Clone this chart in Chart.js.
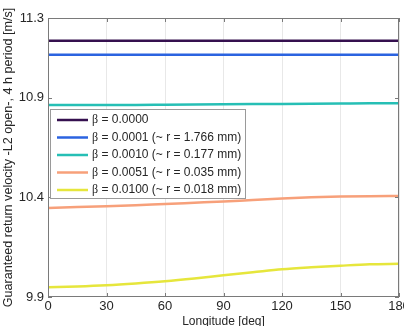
<!DOCTYPE html>
<html>
<head>
<meta charset="utf-8">
<script src="https://cdn.jsdelivr.net/npm/chart.js@4.4.1/dist/chart.umd.min.js"></script>
<style>
  html, body { margin: 0; padding: 0; background: #fff; }
  #wrap { width: 404px; height: 326px; }
</style>
</head>
<body>
<div id="wrap"><canvas id="chart" width="404" height="326"></canvas></div>
<script>
// longitude samples [deg]
const longitude = [0, 15, 30, 45, 60, 75, 90, 105, 120, 135, 150, 165, 180];

// guaranteed return velocity [m/s] per beta
const beta0000 = [11.186, 11.186, 11.186, 11.186, 11.186, 11.186, 11.186, 11.186, 11.186, 11.186, 11.186, 11.186, 11.186];
const beta0001 = [11.116, 11.116, 11.116, 11.116, 11.116, 11.116, 11.116, 11.116, 11.116, 11.116, 11.116, 11.116, 11.116];
const beta0010 = [10.863, 10.863, 10.864, 10.864, 10.865, 10.866, 10.867, 10.868, 10.869, 10.870, 10.871, 10.872, 10.872];
const beta0051 = [10.347, 10.351, 10.355, 10.360, 10.367, 10.373, 10.379, 10.387, 10.394, 10.400, 10.404, 10.406, 10.407];
const beta0100 = [9.949, 9.953, 9.959, 9.968, 9.979, 9.993, 10.009, 10.024, 10.039, 10.049, 10.057, 10.064, 10.067];

const seriesLabels = [
  'β = 0.0000',
  'β = 0.0001 (~ r = 1.766 mm)',
  'β = 0.0010 (~ r = 0.177 mm)',
  'β = 0.0051 (~ r = 0.035 mm)',
  'β = 0.0100 (~ r = 0.018 mm)'
];
const seriesValues = [beta0000, beta0001, beta0010, beta0051, beta0100];
const seriesColors = ['#35104f', '#2b63e0', '#26bfb5', '#f7a07a', '#e6e63c'];

const xTicks = [0, 30, 60, 90, 120, 150, 180];
const yTicks = [9.9, 10.4, 10.9, 11.3];

const sansFont = '"Liberation Sans", Arial, sans-serif';
const frameColor = '#7a7a7a';

// box + inward tick marks on all four sides (MATLAB style)
const framePlugin = {
  id: 'frame',
  afterDatasetsDraw(chart) {
    const { ctx, chartArea: a, scales } = chart;
    ctx.save();
    ctx.strokeStyle = frameColor;
    ctx.lineWidth = 1;
    ctx.strokeRect(a.left + 0.5, a.top + 0.5, a.right - a.left - 1, a.bottom - a.top - 1);
    ctx.beginPath();
    xTicks.forEach(v => {
      const x = Math.round(scales.x.getPixelForValue(v)) + 0.5;
      ctx.moveTo(x, a.bottom); ctx.lineTo(x, a.bottom - 4);
      ctx.moveTo(x, a.top); ctx.lineTo(x, a.top + 4);
    });
    yTicks.forEach(v => {
      const y = Math.round(scales.y.getPixelForValue(v)) + 0.5;
      ctx.moveTo(a.left, y); ctx.lineTo(a.left + 4, y);
      ctx.moveTo(a.right, y); ctx.lineTo(a.right - 4, y);
    });
    ctx.stroke();
    ctx.restore();
  }
};

// legend box inside the axes, upper-left
const boxLegendPlugin = {
  id: 'boxLegend',
  afterDatasetsDraw(chart) {
    const { ctx, chartArea: a } = chart;
    const left = a.left + 2, top = a.top + 91, width = 196, height = 90;
    ctx.save();
    ctx.fillStyle = '#fff';
    ctx.fillRect(left, top, width, height);
    ctx.strokeStyle = '#9a9a9a';
    ctx.lineWidth = 1;
    ctx.strokeRect(left + 0.5, top + 0.5, width - 1, height - 1);
    ctx.textBaseline = 'middle';
    chart.data.datasets.forEach((ds, i) => {
      const y = top + 11 + i * 17.5;
      ctx.strokeStyle = ds.borderColor;
      ctx.lineWidth = 2.5;
      ctx.beginPath();
      ctx.moveTo(left + 7, y);
      ctx.lineTo(left + 38, y);
      ctx.stroke();
      ctx.fillStyle = '#262626';
      const sym = ds.label.charAt(0);
      const rest = ds.label.slice(1);
      ctx.font = '12px "Liberation Serif", "Times New Roman", serif';
      ctx.fillText(sym, left + 42, y);
      const w = ctx.measureText(sym).width;
      ctx.font = '12px ' + sansFont;
      ctx.fillText(rest, left + 42 + w, y);
    });
    ctx.restore();
  }
};

const ctx = document.getElementById('chart').getContext('2d');
new Chart(ctx, {
  type: 'line',
  data: {
    datasets: seriesValues.map((vals, i) => ({
      label: seriesLabels[i],
      data: longitude.map((lon, j) => ({ x: lon, y: vals[j] })),
      borderColor: seriesColors[i],
      backgroundColor: seriesColors[i],
      borderWidth: 2.5,
      pointRadius: 0,
      cubicInterpolationMode: 'monotone',
      fill: false
    }))
  },
  options: {
    responsive: false,
    animation: false,
    devicePixelRatio: 1,
    layout: { padding: { top: 18, right: 5, left: 0, bottom: 0 } },
    plugins: {
      legend: { display: false },
      tooltip: { enabled: false }
    },
    scales: {
      x: {
        type: 'linear',
        min: 0,
        max: 180,
        afterBuildTicks: s => { s.ticks = xTicks.map(v => ({ value: v })); },
        afterFit: s => { s.height = 29; s.paddingLeft = 0; s.paddingRight = 0; },
        grid: { color: '#e8e8e8', drawTicks: false },
        border: { display: false },
        ticks: {
          color: '#262626',
          font: { family: sansFont, size: 13 },
          padding: 2,
          maxRotation: 0,
          autoSkip: false
        },
        title: {
          display: true,
          text: 'Longitude [deg]',
          color: '#262626',
          font: { family: sansFont, size: 12 },
          padding: { top: 0, bottom: -2.6 }
        }
      },
      y: {
        type: 'linear',
        min: 9.9,
        max: 11.3,
        afterBuildTicks: s => { s.ticks = yTicks.map(v => ({ value: v })); },
        afterFit: s => { s.width = 48; s.paddingTop = 0; s.paddingBottom = 0; },
        grid: { display: false, drawTicks: false },
        border: { display: false },
        ticks: {
          color: '#262626',
          font: { family: sansFont, size: 13 },
          padding: 4,
          autoSkip: false,
          callback: v => v.toFixed(1)
        },
        title: {
          display: true,
          text: 'Guaranteed return velocity -L2 open-, 4 h period [m/s]',
          color: '#262626',
          font: { family: sansFont, size: 12.6 },
          padding: { top: 1, bottom: 0 }
        }
      }
    }
  },
  plugins: [framePlugin, boxLegendPlugin]
});
</script>
</body>
</html>
